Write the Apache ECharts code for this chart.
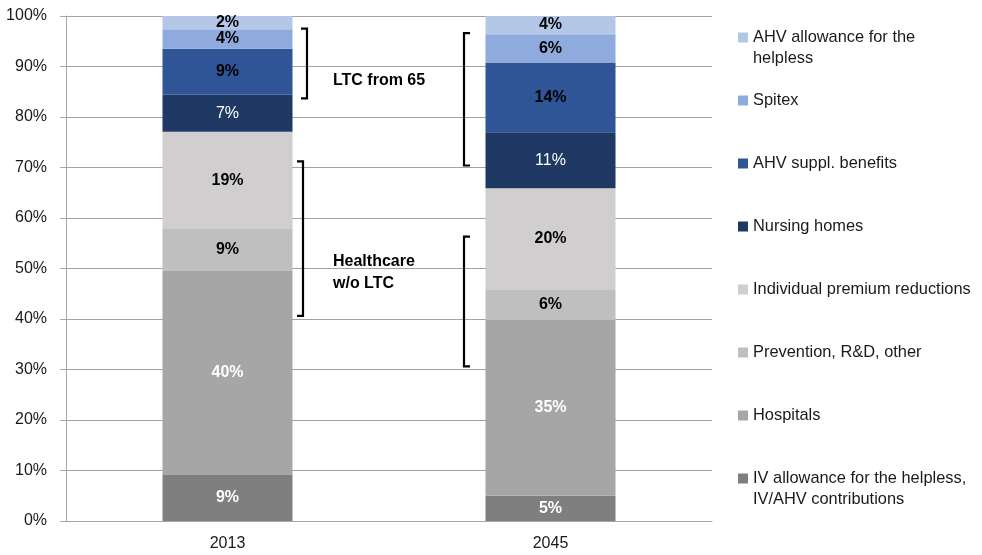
<!DOCTYPE html>
<html>
<head>
<meta charset="utf-8">
<script src="https://cdn.jsdelivr.net/npm/echarts@6/dist/echarts.min.js"></script>
<style>
  html, body { margin: 0; padding: 0; background: #fff; }
  #chart { width: 982px; height: 555px; }
</style>
</head>
<body>
<div id="chart"></div>
<script>
// categories on the x axis
var years = ['2013', '2045'];

// segments, bottom to top
var seriesNames = [
  'IV allowance for the helpless, IV/AHV contributions',
  'Hospitals',
  'Prevention, R&D, other',
  'Individual premium reductions',
  'Nursing homes',
  'AHV suppl. benefits',
  'Spitex',
  'AHV allowance for the helpless'
];
// legend text (line breaks as in the picture)
var legendText = [
  'IV allowance for the helpless,\nIV/AHV contributions',
  'Hospitals',
  'Prevention, R&D, other',
  'Individual premium reductions',
  'Nursing homes',
  'AHV suppl. benefits',
  'Spitex',
  'AHV allowance for the\nhelpless'
];

// share of each segment in %, [2013, 2045]
var ivShare       = [9.1, 5.0];
var hospShare     = [40.4, 34.8];
var prevShare     = [8.3, 6.1];
var premiumShare  = [19.3, 20.0];
var nursingShare  = [7.3, 11.1];
var ahvSupplShare = [9.1, 13.8];
var spitexShare   = [3.9, 5.6];
var allowShare    = [2.6, 3.6];
var shares = [ivShare, hospShare, prevShare, premiumShare, nursingShare, ahvSupplShare, spitexShare, allowShare];

// the rounded percentages printed on the bars
var ivLabel       = ['9%', '5%'];
var hospLabel     = ['40%', '35%'];
var prevLabel     = ['9%', '6%'];
var premiumLabel  = ['19%', '20%'];
var nursingLabel  = ['7%', '11%'];
var ahvSupplLabel = ['9%', '14%'];
var spitexLabel   = ['4%', '6%'];
var allowLabel    = ['2%', '4%'];
var labels = [ivLabel, hospLabel, prevLabel, premiumLabel, nursingLabel, ahvSupplLabel, spitexLabel, allowLabel];

// y axis ticks
var yMin = 0, yMax = 100, yStep = 10;

// bracket annotations: [top %, bottom %] per bracket
var ltc2013 = [97.5, 83.7];
var hc2013 = [71.2, 40.6];
var ltc2045 = [96.6, 70.4];
var hc2045 = [56.3, 30.6];

var colors = ['#7f7f7f', '#a6a6a6', '#bfbfbf', '#d0cece', '#203864', '#2f5597', '#8faadc', '#b4c7e7'];
var labelColors = ['#fff', '#fff', '#000', '#000', '#fff', '#000', '#000', '#000'];
var labelWeights = ['bold', 'bold', 'bold', 'bold', 'normal', 'bold', 'bold', 'bold'];

var font = "'Liberation Sans', Arial, sans-serif";

var chart = echarts.init(document.getElementById('chart'), null, { renderer: 'canvas' });

var series = seriesNames.map(function (name, i) {
  return {
    name: name,
    type: 'bar',
    stack: 'total',
    barWidth: 130,
    itemStyle: { color: colors[i] },
    label: {
      show: true,
      position: 'inside',
      fontFamily: font,
      fontSize: 16,
      fontWeight: labelWeights[i],
      color: labelColors[i],
      formatter: function (p) { return labels[i][p.dataIndex]; }
    },
    data: shares[i]
  };
});

// legend shows top segment first
var legendData = seriesNames.slice().reverse();

var option = {
  animation: false,
  textStyle: { fontFamily: font },
  grid: { left: 66, right: 270, top: 16, bottom: 34 },
  legend: {
    orient: 'vertical',
    left: 738,
    top: 6,
    padding: 0,
    itemGap: 0,
    itemWidth: 10,
    itemHeight: 10,
    icon: 'rect',
    data: legendData,
    selectedMode: false,
    textStyle: { fontFamily: font, fontSize: 16.4, color: '#1a1a1a', lineHeight: 21 },
    formatter: function (name) {
      var t = legendText[seriesNames.indexOf(name)];
      var parts = t.split('\n');
      // icon sits on the first line of the text
      return ' \n' + parts[0] + '\n' + (parts[1] || ' ');
    }
  },
  xAxis: {
    type: 'category',
    data: years,
    axisTick: { show: false },
    axisLine: { lineStyle: { color: '#a6a6a6' } },
    axisLabel: { fontFamily: font, fontSize: 16, color: '#1a1a1a', margin: 15 }
  },
  yAxis: {
    type: 'value',
    min: yMin,
    max: yMax,
    interval: yStep,
    axisLine: { show: true, lineStyle: { color: '#a6a6a6' } },
    axisTick: { show: true, length: 6, lineStyle: { color: '#a6a6a6' } },
    splitLine: { lineStyle: { color: '#a3a3a3' } },
    axisLabel: { fontFamily: font, fontSize: 16, color: '#1a1a1a', margin: 19, formatter: '{value}%' }
  },
  series: series
};
chart.setOption(option);

// brackets and their captions
function yPx(v) { return chart.convertToPixel({ yAxisIndex: 0 }, v); }
function bracket(x, range, dir) {
  var y1 = yPx(range[0]), y2 = yPx(range[1]);
  var s = 6 * dir;
  return {
    type: 'polyline',
    shape: { points: [[x + s, y1], [x, y1], [x, y2], [x + s, y2]] },
    style: { stroke: '#000', lineWidth: 2.2, fill: null }
  };
}
chart.setOption({
  graphic: [
    bracket(307, ltc2013, -1),
    bracket(303, hc2013, -1),
    bracket(464, ltc2045, 1),
    bracket(464, hc2045, 1),
    {
      type: 'text', left: 333, top: 73,
      style: { text: 'LTC from 65', font: 'bold 16px ' + font, fill: '#000' }
    },
    {
      type: 'text', left: 333, top: 251,
      style: { text: 'Healthcare\nw/o LTC', font: 'bold 16px ' + font, fill: '#000', lineHeight: 22 }
    }
  ]
});
</script>
</body>
</html>
